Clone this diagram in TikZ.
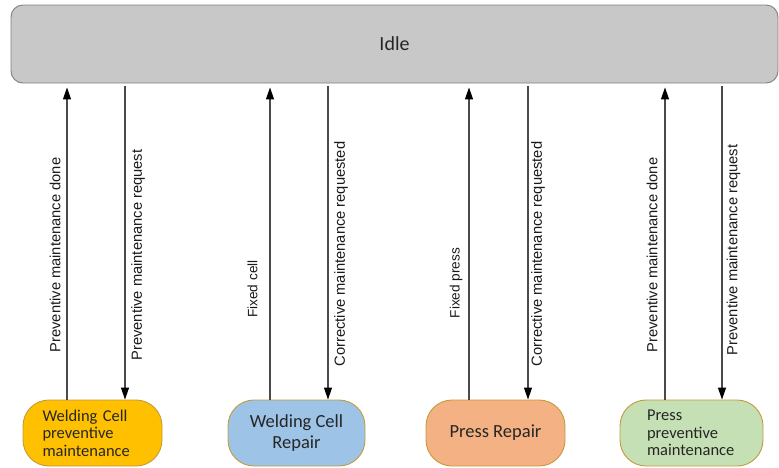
\documentclass[tikz,border=0pt]{standalone}
\usepackage{fontspec}
\setmainfont{Carlito}
\newfontfamily\lblfont{Liberation Sans}
\usetikzlibrary{arrows.meta}

\definecolor{idlefill}{HTML}{C8C8C8}
\definecolor{idledraw}{HTML}{7F7F7F}
\definecolor{statedraw}{HTML}{C39B3A}
\definecolor{weldprev}{HTML}{FFC000}
\definecolor{weldrep}{HTML}{9DC3E6}
\definecolor{pressrep}{HTML}{F4B183}
\definecolor{pressprev}{HTML}{C5E0B4}
\definecolor{linkgray}{HTML}{4A4A4A}

\tikzset{
  idlebox/.style={draw=idledraw, fill=idlefill, line width=0.9pt,
    rounded corners=12pt, minimum width=767pt, minimum height=78pt,
    inner sep=0pt, text=black!85, font=\fontsize{20}{24}\selectfont},
  statebox/.style={draw=statedraw, line width=0.9pt, rounded corners=26pt,
    minimum height=66pt, inner sep=0pt, text=black!85},
  link/.style={draw=linkgray, line width=1.2pt,
    -{Triangle[length=12pt,width=8pt,fill=black,color=black]}},
  lbl/.style={rotate=90, inner sep=0pt, text=black!90,
    font=\lblfont\fontsize{14.7}{17}\selectfont},
  smalllbl/.style={lbl, font=\lblfont\fontsize{13.6}{16}\selectfont}
}

\begin{document}
\begin{tikzpicture}[x=1pt,y=1pt]
\useasboundingbox (0,0) rectangle (779,-467);

% top state
\node[idlebox] (idle) at (394.5,-44) {Idle};

% maintenance states
\node[statebox, fill=weldprev, minimum width=139pt, text width=100pt, align=left,
      font=\fontsize{16.5}{17.5}\selectfont] (wcp) at (92.5,-433)
  {Welding Cell\\preventive\\maintenance};
\node[statebox, fill=weldrep, minimum width=137pt, align=center,
      font=\fontsize{18.5}{21}\selectfont] (wcr) at (296.5,-433)
  {Welding Cell\\Repair};
\node[statebox, fill=pressrep, minimum width=139pt, align=center,
      font=\fontsize{18.5}{21}\selectfont] (prr) at (495.5,-433)
  {Press Repair};
\node[statebox, fill=pressprev, minimum width=143pt, text width=89pt, align=left,
      font=\fontsize{16.5}{17.5}\selectfont] (prp) at (691.5,-433)
  {Press\\preventive\\maintenance};

% anchor points on the states
\coordinate (wcpU) at ([xshift=-25.5pt]wcp.north);
\coordinate (wcpD) at ([xshift=32.5pt]wcp.north);
\coordinate (wcrU) at ([xshift=-26.5pt]wcr.north);
\coordinate (wcrD) at ([xshift=31.5pt]wcr.north);
\coordinate (prrU) at ([xshift=-26.5pt]prr.north);
\coordinate (prrD) at ([xshift=32.5pt]prr.north);
\coordinate (prpU) at ([xshift=-26.5pt]prp.north);
\coordinate (prpD) at ([xshift=30.5pt]prp.north);

% transitions
\draw[link, shorten >=4pt] (wcpU) -- (wcpU |- idle.south);
\draw[link, shorten <=3pt] (wcpD |- idle.south) -- (wcpD);
\draw[link, shorten >=4pt] (wcrU) -- (wcrU |- idle.south);
\draw[link, shorten <=3pt] (wcrD |- idle.south) -- (wcrD);
\draw[link, shorten >=4pt] (prrU) -- (prrU |- idle.south);
\draw[link, shorten <=3pt] (prrD |- idle.south) -- (prrD);
\draw[link, shorten >=4pt] (prpU) -- (prpU |- idle.south);
\draw[link, shorten <=3pt] (prpD |- idle.south) -- (prpD);

% transition labels
\node[lbl] (l1) at (55,-255) {Preventive maintenance done};
\node[lbl] (l2) at (138,-255) {Preventive maintenance request};
\node[smalllbl] (l3) at (252.5,-289) {Fixed cell};
\node[lbl] (l4) at (341,-254) {Corrective maintenance requested};
\node[smalllbl] (l5) at (456,-283) {Fixed press};
\node[lbl] (l6) at (538,-254) {Corrective maintenance requested};
\node[lbl] (l7) at (652,-255) {Preventive maintenance done};
\node[lbl] (l8) at (733.5,-250) {Preventive maintenance request};
\end{tikzpicture}
\end{document}
